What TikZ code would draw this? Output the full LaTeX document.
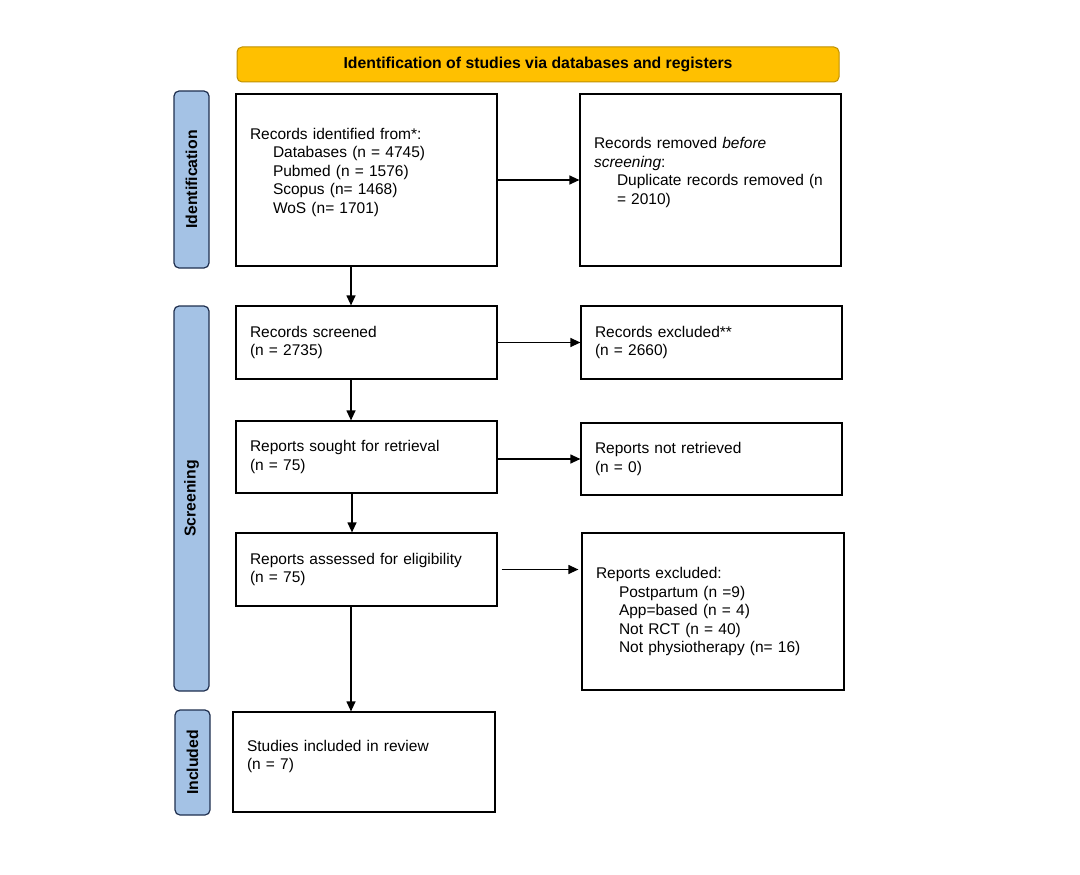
\documentclass[tikz,border=0pt]{standalone}
\usepackage{fontspec}
\setmainfont{Liberation Sans}
\usetikzlibrary{arrows.meta}
\definecolor{gold}{HTML}{FFC000}
\definecolor{goldline}{HTML}{BF9000}
\definecolor{bluebar}{HTML}{A4C2E5}
\definecolor{blueline}{HTML}{1F2F4F}
\tikzset{
  flowbox/.style={draw=black, line width=1.2pt, rectangle, inner xsep=14pt, inner ysep=4pt,
    align=left, font=\fontsize{15.5}{18.5}\selectfont, anchor=center},
  sidebar/.style={draw=blueline, fill=bluebar, line width=1.2pt, rounded corners=5pt,
    font=\bfseries\fontsize{15.8}{17}\selectfont, rotate=90, inner sep=0pt, anchor=center},
  header/.style={draw=goldline, fill=gold, line width=1pt, rounded corners=5pt,
    font=\bfseries\fontsize{15.8}{17}\selectfont, inner sep=0pt, anchor=center},
  flowarrow/.style={-{Triangle[length=10pt,width=9pt]}, line width=1.2pt}
}
\newcommand{\ind}{\hspace*{23pt}}
\begin{document}
\begin{tikzpicture}[x=1pt,y=-1pt]
\useasboundingbox (0,0) rectangle (1080,875);

\node[header, minimum width=602pt, minimum height=35pt] (hdr) at (538,64.5)
  {Identification of studies via databases and registers};

\node[sidebar, minimum width=177pt, minimum height=35pt] (sid) at (191.5,179.5) {Identification};
\node[sidebar, minimum width=385pt, minimum height=35pt] (sscr) at (191.5,498.5) {Screening};
\node[sidebar, minimum width=105pt, minimum height=35pt] (sinc) at (192.5,762.5) {Included};

\node[flowbox, minimum width=261pt, minimum height=172pt, text width=233pt] (ident) at (366.5,180)
  {Records identified from*:\\
   \ind Databases (n = 4745)\\
   \ind Pubmed (n = 1576)\\
   \ind Scopus (n= 1468)\\
   \ind WoS (n= 1701)\\
   \mbox{}};

\node[flowbox, minimum width=261pt, minimum height=172pt, text width=233pt] (removed) at (710.5,180)
  {Records removed \textit{before}\\
   \textit{screening}:\\
   \ind Duplicate records removed (n\\
   \ind = 2010)\\
   \mbox{}};

\node[flowbox, minimum width=261pt, minimum height=73pt, text width=233pt] (screened) at (366.5,342.5)
  {Records screened\\(n = 2735)};

\node[flowbox, minimum width=261pt, minimum height=73pt, text width=233pt] (excluded) at (711.5,342.5)
  {Records excluded**\\(n = 2660)};

\node[flowbox, minimum width=261pt, minimum height=72pt, text width=233pt] (sought) at (366.5,457)
  {Reports sought for retrieval\\(n = 75)};

\node[flowbox, minimum width=261pt, minimum height=72pt, text width=233pt] (notret) at (711.5,459)
  {Reports not retrieved\\(n = 0)};

\node[flowbox, minimum width=261pt, minimum height=73pt, text width=233pt] (assessed) at (366.5,569.5)
  {Reports assessed for eligibility\\(n = 75)};

\node[flowbox, minimum width=262pt, minimum height=157pt, text width=234pt] (repexcl) at (713,611.5)
  {Reports excluded:\\
   \ind Postpartum (n =9)\\
   \ind App=based (n = 4)\\
   \ind Not RCT (n = 40)\\
   \ind Not physiotherapy (n= 16)};

\node[flowbox, minimum width=262pt, minimum height=100pt, text width=234pt] (included) at (364,762)
  {Studies included in review\\(n = 7)\\[-4pt]\mbox{}};

\draw[flowarrow] (ident.east) -- (removed.west);
\draw[flowarrow] (351,266) -- (screened.north -| 351,0);
\draw[flowarrow] (screened.east) -- (excluded.west);
\draw[flowarrow] (screened.south -| 351,0) -- (sought.north -| 351,0);
\draw[flowarrow] (sought.east |- notret.west) -- (notret.west);
\draw[flowarrow] (sought.south -| 352,0) -- (assessed.north -| 352,0);
\draw[flowarrow] ([xshift=4pt]assessed.east) -- ([xshift=-3pt]repexcl.west |- assessed.east);
\draw[flowarrow] (assessed.south -| 351,0) -- (included.north -| 351,0);
\end{tikzpicture}
\end{document}
